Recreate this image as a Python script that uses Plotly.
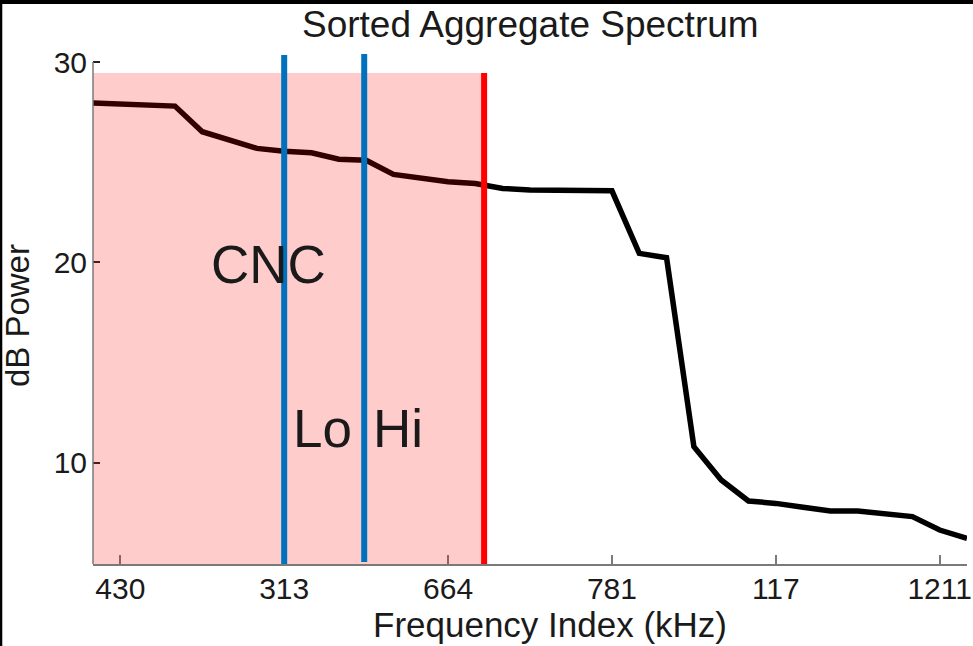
import plotly.graph_objects as go

# ---- data ----
freq_index = list(range(33))
db_power = [27.96, 27.92, 27.85, 27.80, 26.52, 26.10, 25.69, 25.55, 25.47, 25.15,
            25.10, 24.39, 24.22, 24.02, 23.94, 23.69, 23.61, 23.59, 23.58, 23.57,
            20.45, 20.23, 10.80, 9.14, 8.09, 7.97, 7.78, 7.59, 7.59, 7.43,
            7.31, 6.64, 6.23]
tick_positions = [1, 7, 13, 19, 25, 31]
tick_labels = ["430", "313", "664", "781", "117", "1211"]
y_ticks = [10, 20, 30]

cnc_lo_x = 7.0          # blue marker between CNC/Lo
lo_hi_x = 9.93          # blue marker between Lo/Hi
cutoff_x = 14.32        # red cutoff
band_top = 29.45        # top of shaded band
blue1_y = [4.945, 30.35]
blue2_y = [5.05, 30.40]

x_range = [0, 32]
y_range = [4.945, 30.45]

FONT = "Arial, Liberation Sans, sans-serif"
GRAY = "#7a7a7a"
TXT = "#1a1a1a"

fig = go.Figure()
fig.add_trace(go.Scatter(x=freq_index, y=db_power, mode="lines",
                         line=dict(color="black", width=5.5), showlegend=False,
                         hoverinfo="skip"))

shapes = [
    # shaded band
    dict(type="rect", xref="x", yref="y", x0=x_range[0], x1=cutoff_x,
         y0=y_range[0], y1=band_top, fillcolor="red", opacity=0.2,
         line=dict(width=0), layer="above"),
    # y axis line
    dict(type="line", xref="paper", yref="y", x0=0, x1=0, y0=y_range[0], y1=30,
         line=dict(color=GRAY, width=1.5), layer="above"),
    # blue markers
    dict(type="line", xref="x", yref="y", x0=cnc_lo_x, x1=cnc_lo_x,
         y0=blue1_y[0], y1=blue1_y[1], line=dict(color="#0072BD", width=6), layer="above"),
    dict(type="line", xref="x", yref="y", x0=lo_hi_x, x1=lo_hi_x,
         y0=blue2_y[0], y1=blue2_y[1], line=dict(color="#0072BD", width=6), layer="above"),
    # red cutoff
    dict(type="line", xref="x", yref="y", x0=cutoff_x, x1=cutoff_x,
         y0=y_range[0], y1=band_top, line=dict(color="#FF0000", width=6), layer="above"),
    # black frame strips (top / left of the image)
    dict(type="rect", xref="paper", yref="paper", x0=-0.1064, x1=1.0069,
         y0=1.0959, y1=1.1037, fillcolor="black", line=dict(width=0), layer="above"),
    dict(type="rect", xref="paper", yref="paper", x0=-0.1064, x1=-0.1038,
         y0=-0.1605, y1=1.1037, fillcolor="black", line=dict(width=0), layer="above"),
]

annotations = [
    dict(text="Sorted Aggregate Spectrum", xref="paper", yref="paper",
         x=0.5, y=1.0548, xanchor="center", yanchor="middle", showarrow=False,
         font=dict(family=FONT, size=37, color=TXT)),
    dict(text="Frequency Index (kHz)", xref="paper", yref="paper",
         x=0.523, y=-0.118, xanchor="center", yanchor="middle", showarrow=False,
         font=dict(family=FONT, size=35, color=TXT)),
    dict(text="dB Power", xref="paper", yref="paper", textangle=-90,
         x=-0.087, y=0.487, xanchor="center", yanchor="middle", showarrow=False,
         font=dict(family=FONT, size=33, color=TXT)),
    dict(text="CNC", xref="x", yref="y", x=6.42, y=19.87, xanchor="center",
         yanchor="middle", showarrow=False, font=dict(family=FONT, size=53, color=TXT)),
    dict(text="Lo", xref="x", yref="y", x=8.41, y=11.73, xanchor="center",
         yanchor="middle", showarrow=False, font=dict(family=FONT, size=53, color=TXT)),
    dict(text="Hi", xref="x", yref="y", x=11.16, y=11.73, xanchor="center",
         yanchor="middle", showarrow=False, font=dict(family=FONT, size=53, color=TXT)),
]

fig.update_layout(
    width=973, height=646,
    margin=dict(l=93, r=6, t=53, b=82, pad=0),
    paper_bgcolor="white", plot_bgcolor="white",
    shapes=shapes, annotations=annotations,
    xaxis=dict(range=x_range, tickmode="array", tickvals=tick_positions,
               ticktext=tick_labels, ticks="inside", ticklen=9, tickwidth=1.5,
               tickcolor=GRAY, showline=True, linecolor=GRAY, linewidth=1.5,
               showgrid=False, zeroline=False, automargin=False,
               ticklabelstandoff=-3,
               tickfont=dict(family=FONT, size=30, color=TXT)),
    yaxis=dict(range=y_range, tickmode="array", tickvals=y_ticks,
               ticks="inside", ticklen=7, tickwidth=1.5, tickcolor="#222",
               showline=False, showgrid=False, zeroline=False, automargin=False,
               ticklabelstandoff=5,
               tickfont=dict(family=FONT, size=30, color=TXT)),
)

fig.write_html("out.html")
